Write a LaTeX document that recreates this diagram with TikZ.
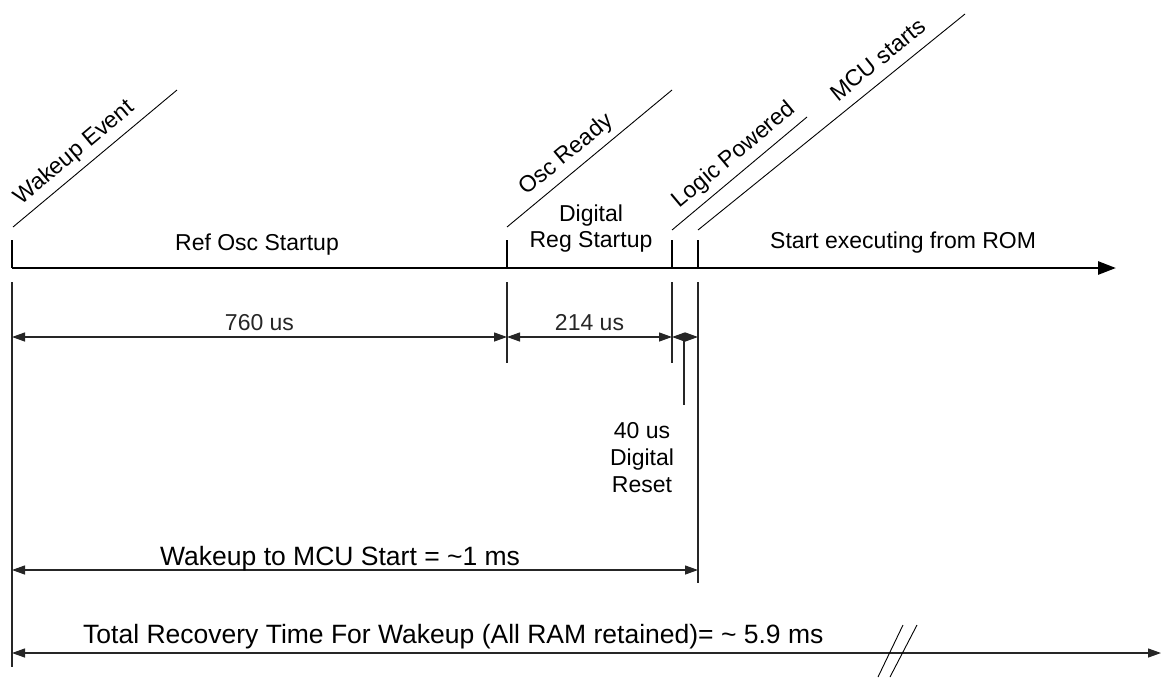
\documentclass[tikz,border=0pt]{standalone}
\usepackage{fontspec}
\setmainfont{Liberation Sans}
\usetikzlibrary{arrows.meta}
\tikzset{
  small/.style={font=\fontsize{23}{27}\selectfont},
  big/.style={font=\fontsize{26.5}{30}\selectfont},
  timeline/.style={line width=2.7pt,-{Triangle[length=18pt,width=13pt]}},
  tickmark/.style={line width=2pt},
  diag/.style={line width=0.9pt},
  extline/.style={line width=1.3pt,black!85},
  dimline/.style={line width=1.3pt,black!85,{Triangle[length=13pt,width=9pt]}-{Triangle[length=13pt,width=9pt]}},
  evlabel/.style={small,sloped,anchor=south west,inner xsep=0pt,inner ysep=6pt,text depth=5pt},
  breakline/.style={line width=0.9pt}
}
\begin{document}
\begin{tikzpicture}[x=1pt,y=-1pt]
\useasboundingbox (0,0) rectangle (1162,678);
% main time axis
\coordinate (t0) at (12,268);
\coordinate (tend) at (1116,268);
\draw[timeline] (t0) -- (tend);
% ticks
\coordinate (atop) at (12,240);   \coordinate (abot) at (12,268);
\coordinate (btop) at (507,240);  \coordinate (bbot) at (507,268);
\coordinate (ctop) at (672,240);  \coordinate (cbot) at (672,268);
\coordinate (dtop) at (698,240);  \coordinate (dbot) at (698,268);
\draw[tickmark] (atop) -- (abot);
\draw[tickmark] (btop) -- (bbot);
\draw[tickmark] (ctop) -- (cbot);
\draw[tickmark] (dtop) -- (dbot);
% event diagonals
\coordinate (w0) at (13,227);  \coordinate (w1) at (177,90);
\coordinate (o0) at (507,227); \coordinate (o1) at (672,90);
\coordinate (l0) at (672,230); \coordinate (l1) at (807,117);
\coordinate (m0) at (698,230); \coordinate (m1) at (965,14);
\draw[diag] (w0) -- (w1) node[evlabel,pos=0.093] (wl) {Wakeup Event};
\draw[diag] (o0) -- (o1) node[evlabel,pos=0.16] (ol) {Osc Ready};
\draw[diag] (l0) -- (l1) node[evlabel,pos=0.11] (ll) {Logic Powered};
\draw[diag] (m0) -- (m1) node[evlabel,pos=0.55] (ml) {MCU starts};
% phase labels
\node[small,anchor=base] (ref) at (257,250) {Ref Osc Startup};
\node[small,anchor=north,inner sep=0pt,align=center,font=\fontsize{23}{26}\selectfont] (reg) at (591,205) {Digital\\Reg Startup};
\node[small,anchor=base west,inner sep=0pt] (rom) at (770,248) {Start executing from ROM};
% extension lines
\coordinate (ea1) at (12,282);  \coordinate (ea2) at (12,667);
\coordinate (eb1) at (507,282); \coordinate (eb2) at (507,363);
\coordinate (ec1) at (672,282); \coordinate (ec2) at (672,363);
\coordinate (ed1) at (698,282); \coordinate (ed2) at (698,583);
\draw[extline] (ea1) -- (ea2);
\draw[extline] (eb1) -- (eb2);
\draw[extline] (ec1) -- (ec2);
\draw[extline] (ed1) -- (ed2);
% dimensions
\coordinate (da) at (12,337);  \coordinate (db) at (507,337);
\coordinate (dc) at (672,337); \coordinate (dd) at (698,337);
\draw[dimline] (da) -- (db) node[small,midway,anchor=base,yshift=7pt,inner sep=0pt] (d760) {760 us};
\draw[dimline] (db) -- (dc) node[small,midway,anchor=base,yshift=7pt,inner sep=0pt] (d214) {214 us};
\draw[dimline] (dc) -- (dd);
\coordinate (lead0) at (684,337); \coordinate (lead1) at (684,405);
\draw[extline] (lead0) -- (lead1);
\node[small,anchor=north,inner sep=0pt,align=center] (d40) at (642,422.5) {40 us\\Digital\\Reset};
% overall
\coordinate (wa) at (12,570); \coordinate (wb) at (698,570);
\draw[dimline] (wa) -- (wb);
\node[big,anchor=base west,inner sep=0pt] (wlab) at (160,565) {Wakeup to MCU Start = \textasciitilde1 ms};
\coordinate (ta) at (12,653); \coordinate (tb) at (1161,653);
\draw[dimline] (ta) -- (tb);
\node[big,anchor=base west,inner sep=0pt] (tlab) at (83,643) {Total Recovery Time For Wakeup (All RAM retained)= \textasciitilde{} 5.9 ms};
% break mark
\coordinate (k1a) at (878,677); \coordinate (k1b) at (903,625);
\coordinate (k2a) at (890,677); \coordinate (k2b) at (917,625);
\draw[breakline] (k1a) -- (k1b);
\draw[breakline] (k2a) -- (k2b);
\end{tikzpicture}
\end{document}
